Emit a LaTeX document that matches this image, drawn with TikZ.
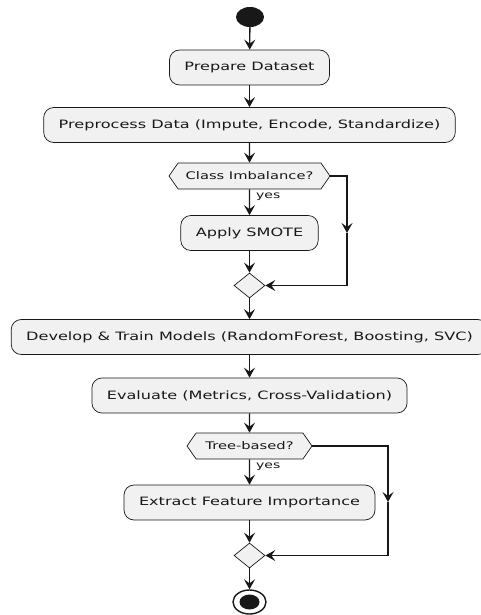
\documentclass[tikz,border=0pt]{standalone}
\usepackage{fontspec}
\setmainfont{DejaVu Sans}[FakeStretch=1.4]
\usetikzlibrary{shapes.geometric,shapes.symbols,arrows.meta}
\definecolor{ink}{HTML}{181818}
\definecolor{boxfill}{HTML}{F1F1F1}
\tikzset{
  act/.style={draw=ink, line width=0.7pt, fill=boxfill, rounded corners=10pt,
    minimum height=35pt, inner xsep=15pt, inner ysep=0pt,
    font=\fontsize{11.5}{13}\selectfont, text=ink},
  hexa/.style={shape=signal, signal to=east and west, signal pointer angle=110,
    draw=ink, line width=0.7pt, fill=boxfill, inner sep=0pt, minimum height=26pt,
    font=\fontsize{10.5}{12}\selectfont, text=ink},
  merge/.style={shape=diamond, draw=ink, line width=0.7pt, fill=boxfill, inner sep=0pt,
    minimum width=31pt, minimum height=25pt},
  arr/.style={draw=ink, line width=1.3pt, -{Stealth[length=10pt,width=11pt,inset=4pt]}},
  lbl/.style={font=\fontsize{10}{12}\selectfont, text=ink, inner sep=0pt},
}
\begin{document}
\begin{tikzpicture}[x=1pt,y=1pt]
\useasboundingbox (0,0) rectangle (480,-615);
\fill[white] (0,0) rectangle (480,-615);
\node[ellipse, fill=ink, minimum width=28pt, minimum height=20pt, inner sep=0pt] (start) at (250,-17) {};
\node[act] (prep) at (249.5,-67.5) {Prepare Dataset};
\node[act] (pre) at (249.5,-125) {Preprocess Data (Impute, Encode, Standardize)};
\node[hexa, minimum width=161pt] (c1) at (249.5,-176) {Class Imbalance?};
\node[act] (smote) at (249.5,-233) {Apply SMOTE};
\node[merge] (m1) at (249.5,-285.5) {};
\node[act] (dev) at (249.5,-337) {Develop \& Train Models (RandomForest, Boosting, SVC)};
\node[act] (eval) at (249.5,-395.5) {Evaluate (Metrics, Cross-Validation)};
\node[hexa, minimum width=125pt] (c2) at (249.5,-446) {Tree-based?};
\node[act] (ext) at (249.5,-502.5) {Extract Feature Importance};
\node[merge] (m2) at (249.5,-555.5) {};
\node[ellipse, draw=ink, line width=1.4pt, fill=white, minimum width=33pt, minimum height=24pt, inner sep=0pt] (end) at (249.5,-602) {};
\fill[ink] (end.center) ellipse [x radius=10pt, y radius=7.5pt];
\coordinate (r1) at (347,-233);
\coordinate (r2) at (388,-502);
\draw[arr] (start) -- (prep);
\draw[arr] (prep) -- (pre);
\draw[arr] (pre) -- (c1);
\draw[arr] (c1) -- node[lbl, pos=0.3, anchor=west, xshift=6pt] {yes} (smote);
\draw[arr] (smote) -- (m1);
\draw[arr] (c1.east) -| (r1);
\draw[arr] (r1) |- (m1.east);
\draw[arr] (m1) -- (dev);
\draw[arr] (dev) -- (eval);
\draw[arr] (eval) -- (c2);
\draw[arr] (c2) -- node[lbl, pos=0.3, anchor=west, xshift=6pt] {yes} (ext);
\draw[arr] (ext) -- (m2);
\draw[arr] (c2.east) -| (r2);
\draw[arr] (r2) |- (m2.east);
\draw[arr] (m2) -- (end);
\end{tikzpicture}
\end{document}
